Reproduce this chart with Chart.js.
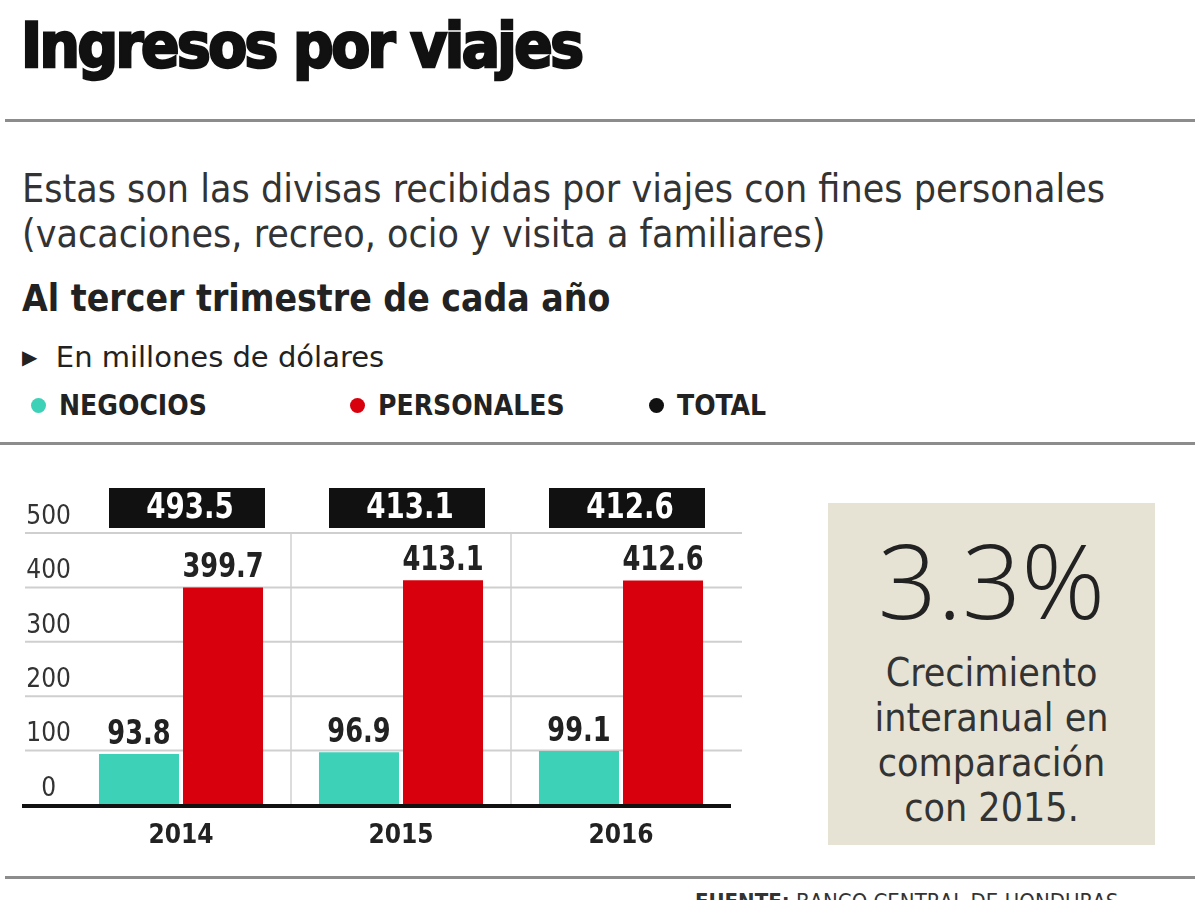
<!DOCTYPE html>
<html>
<head>
<meta charset="utf-8">
<script src="https://cdn.jsdelivr.net/npm/chart.js@4"></script>
<style>
  body { margin: 0; width: 1200px; height: 900px; background: #fff; position: relative; overflow: hidden;
         font-family: "DejaVu Sans Condensed", "DejaVu Sans", sans-serif; color: #222; }
  .abs { position: absolute; white-space: nowrap; }
  .rule { position: absolute; background: #8c8c8c; height: 3px; }
  #titulo { left: 21px; top: 9px; font-size: 63px; font-weight: 900; color: #111; letter-spacing: -2.5px;
            -webkit-text-stroke: 2.5px #111; }
  .sub { left: 22px; font-size: 39px; color: #333; }
  #trim { left: 22px; top: 277px; font-size: 37px; font-weight: bold; color: #222; }
  #unid { left: 22px; top: 340px; font-size: 29px; color: #222; font-family: "DejaVu Sans", sans-serif; }
  .ley { top: 389px; font-size: 28px; font-weight: bold; color: #222; }
  .dot { display: inline-block; width: 15px; height: 15px; border-radius: 50%; margin-right: 13px; vertical-align: 2px; }
  #caja { left: 828px; top: 503px; width: 327px; height: 342px; background: #e6e3d4; }
  #pct { left: 828px; width: 327px; top: 508px; text-align: center; font-size: 104px; font-weight: 300; color: #222;
         font-family: "Open Sans", "DejaVu Sans", sans-serif; }
  #desc { left: 828px; width: 327px; top: 650px; text-align: center; font-size: 39px; line-height: 45px; color: #333; }
  #fuente { left: 695px; top: 889px; font-size: 22px; color: #333; }
  #wrap { position: absolute; left: 0; top: 460px; width: 760px; height: 400px; }
</style>
</head>
<body>
<div class="abs" id="titulo">Ingresos por viajes</div>
<div class="rule" style="left:5px; width:1190px; top:119px;"></div>
<div class="abs sub" style="top:166px;">Estas son las divisas recibidas por viajes con fines personales</div>
<div class="abs sub" style="top:211px;">(vacaciones, recreo, ocio y visita a familiares)</div>
<div class="abs" id="trim">Al tercer trimestre de cada año</div>
<div class="abs" id="unid"><span style="font-size:20px; vertical-align:3px;">&#9654;</span>&nbsp; En millones de dólares</div>
<div class="abs ley" style="left:31px;"><span class="dot" style="background:#3dd1b8"></span>NEGOCIOS</div>
<div class="abs ley" style="left:350px;"><span class="dot" style="background:#d9000d"></span>PERSONALES</div>
<div class="abs ley" style="left:649px;"><span class="dot" style="background:#111"></span>TOTAL</div>
<div class="rule" style="left:0; width:1195px; top:442px;"></div>
<div class="abs" id="caja"></div>
<div class="abs" id="pct">3.3%</div>
<div class="abs" id="desc">Crecimiento<br>interanual en<br>comparación<br>con 2015.</div>
<div class="rule" style="left:5px; width:1190px; top:876px;"></div>
<div class="abs" id="fuente"><b>FUENTE:</b> BANCO CENTRAL DE HONDURAS</div>
<div id="wrap"><canvas id="grafica"></canvas></div>

<script>
const anios = ['2014', '2015', '2016'];
const negocios = [93.8, 96.9, 99.1];
const personales = [399.7, 413.1, 412.6];
const totales = [493.5, 413.1, 412.6];
const ticksY = [0, 100, 200, 300, 400, 500];

const fuenteNum = '"DejaVu Sans Condensed", "DejaVu Sans", sans-serif';

// texto angosto (fuente condensada simulada)
function textoAngosto(c, txt, x, y, escala) {
    c.save();
    c.translate(x, y);
    c.scale(escala, 1);
    c.fillText(txt, 0, 0);
    c.restore();
}

// lineas horizontales, base negra, etiquetas y cajas de total
const decorado = {
    id: 'decorado',
    beforeDatasetsDraw(chart) {
        const c = chart.ctx;
        const y = chart.scales.y;
        const area = chart.chartArea;
        c.save();
        ticksY.forEach(v => {
            if (v === 0) return;
            const py = y.getPixelForValue(v);
            c.strokeStyle = '#cfcfcf';
            c.lineWidth = 2;
            c.beginPath();
            c.moveTo(25, py);
            c.lineTo(area.right + 11, py);
            c.stroke();
        });
        c.restore();
    },
    afterDatasetsDraw(chart) {
        const c = chart.ctx;
        const x = chart.scales.x;
        const y = chart.scales.y;
        const area = chart.chartArea;
        c.save();
        // base
        c.fillStyle = '#111';
        c.fillRect(22, y.getPixelForValue(0) - 1, area.right - 22, 4);
        // valores sobre las barras
        c.font = 'bold 34px ' + fuenteNum;
        c.fillStyle = '#222';
        c.textAlign = 'center';
        c.textBaseline = 'bottom';
        chart.data.datasets.forEach((ds, i) => {
            chart.getDatasetMeta(i).data.forEach((bar, j) => {
                textoAngosto(c, ds.data[j].toFixed(1), bar.x, bar.y - 2, 0.84);
            });
        });
        // cajas de total
        c.font = 'bold 35px ' + fuenteNum;
        c.textBaseline = 'middle';
        totales.forEach((t, j) => {
            const cx = x.getPixelForValue(j) + 6;
            c.fillStyle = '#111';
            c.fillRect(cx - 78, area.top - 45, 156, 40);
            c.fillStyle = '#fff';
            textoAngosto(c, t.toFixed(1), cx + 3, area.top - 24, 0.88);
        });
        c.restore();
    }
};

new Chart(document.getElementById('grafica'), {
    type: 'bar',
    data: {
        labels: anios,
        datasets: [
            { label: 'NEGOCIOS', data: negocios, backgroundColor: '#3dd1b8',
              categoryPercentage: 0.764, barPercentage: 0.952 },
            { label: 'PERSONALES', data: personales, backgroundColor: '#d9000d',
              categoryPercentage: 0.764, barPercentage: 0.952 }
        ]
    },
    options: {
        responsive: true,
        maintainAspectRatio: false,
        animation: false,
        layout: { padding: { left: 25, right: 29, top: 73, bottom: 0 } },
        plugins: { legend: { display: false }, tooltip: { enabled: false } },
        scales: {
            x: {
                grid: {
                    offset: true,
                    drawTicks: false,
                    lineWidth: 2,
                    color: ctx => (ctx.index === 1 || ctx.index === 2) ? '#dcdcdc' : 'rgba(0,0,0,0)'
                },
                border: { display: false },
                ticks: { padding: 16, color: '#222', font: { family: fuenteNum, size: 26, weight: 'bold' } },
                afterFit: s => { s.height = 55; }
            },
            y: {
                min: 0,
                max: 500,
                grid: { display: false, drawTicks: false },
                border: { display: false },
                ticks: {
                    stepSize: 100,
                    labelOffset: -16,
                    crossAlign: 'center',
                    padding: 0,
                    color: '#333',
                    font: { family: fuenteNum, size: 26 }
                },
                afterFit: s => { s.width = 46; }
            }
        }
    },
    plugins: [decorado]
});
</script>
</body>
</html>
